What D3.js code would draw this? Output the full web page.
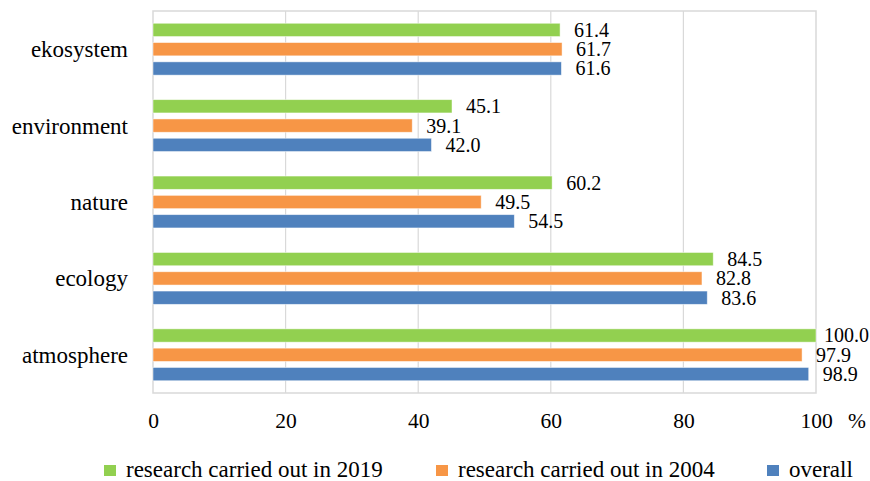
<!DOCTYPE html>
<html><head><meta charset="utf-8"><script src="https://cdn.jsdelivr.net/npm/d3@7"></script></head>
<body style="margin:0">
<script>
const categories = ["ekosystem", "environment", "nature", "ecology", "atmosphere"];
const seriesNames = ["research carried out in 2019", "research carried out in 2004", "overall"];
const values2019 = [61.4, 45.1, 60.2, 84.5, 100.0];
const values2004 = [61.7, 39.1, 49.5, 82.8, 97.9];
const valuesOverall = [61.6, 42.0, 54.5, 83.6, 98.9];
const xTicks = [0, 20, 40, 60, 80, 100];
const colors = ["#92D050", "#F79646", "#4F81BD"];

const FONT = "Liberation Serif";
const W = 870, H = 481;
const plot = { left: 153, right: 816, top: 11, bottom: 393 };

const svg = d3.select("body").append("svg").attr("width", W).attr("height", H);

const x = d3.scaleLinear().domain([0, 100]).range([plot.left, plot.right]);
const y0 = d3.scaleBand().domain(categories).range([plot.top, plot.bottom]).padding(0);
const y1 = d3.scaleBand().domain(seriesNames).range([0, y0.bandwidth()])
  .paddingInner(0.311).paddingOuter(0.635);
const color = d3.scaleOrdinal().domain(seriesNames).range(colors);

const seriesValues = [values2019, values2004, valuesOverall];
const rows = categories.map((c, i) => ({
  cat: c,
  vals: seriesNames.map((s, j) => ({ series: s, value: seriesValues[j][i] }))
}));

function serif(sel, size) {
  sel.style("font-family", `"${FONT}"`).attr("font-size", size).attr("fill", "#000");
}

// gridlines
svg.append("g").selectAll("line").data(xTicks.slice(1, -1)).join("line")
  .attr("x1", d => x(d)).attr("x2", d => x(d))
  .attr("y1", plot.top).attr("y2", plot.bottom)
  .attr("stroke", "#d9d9d9").attr("stroke-width", 1.2);

// plot border
svg.append("rect")
  .attr("x", plot.left).attr("y", plot.top)
  .attr("width", plot.right - plot.left).attr("height", plot.bottom - plot.top)
  .attr("fill", "none").attr("stroke", "#d9d9d9").attr("stroke-width", 1.5);

// bars
const groups = svg.append("g").selectAll("g").data(rows).join("g")
  .attr("transform", d => `translate(0,${y0(d.cat)})`);

groups.selectAll("rect").data(d => d.vals).join("rect")
  .attr("x", x(0))
  .attr("y", d => y1(d.series))
  .attr("width", d => x(d.value) - x(0))
  .attr("height", y1.bandwidth())
  .attr("fill", d => color(d.series))
  .attr("stroke", "#ffffff").attr("stroke-opacity", 0.6).attr("stroke-width", 0.8);

// value labels (approximate width of Times digits: 0.5em, '.' 0.25em)
const fmt = d3.format(".1f");
const valSize = 20;
groups.selectAll("text").data(d => d.vals).join("text")
  .call(serif, valSize)
  .attr("y", d => y1(d.series) + y1.bandwidth() / 2 + 7)
  .attr("x", d => {
    const s = fmt(d.value);
    const w = (s.length - 1) * 0.5 * valSize + 0.25 * valSize;
    return Math.min(x(d.value) + 14, W - w - 1);
  })
  .text(d => fmt(d.value));

// category labels
svg.append("g").selectAll("text").data(categories).join("text")
  .call(serif, 23)
  .attr("x", 128)
  .attr("y", d => y0(d) + y0.bandwidth() / 2 + 8)
  .attr("text-anchor", "end")
  .text(d => d);

// x axis tick labels
const xAxis = d3.axisBottom(x).tickValues(xTicks).tickSize(0).tickPadding(0);
const ax = svg.append("g").attr("transform", `translate(0,${plot.bottom})`).call(xAxis);
ax.attr("font-family", null).attr("font-size", null);
ax.select(".domain").remove();
ax.selectAll("text")
  .call(serif, 21.5)
  .attr("dy", null)
  .attr("y", 35);

svg.append("text").attr("x", 848).attr("y", plot.bottom + 35)
  .call(serif, 21.5)
  .text("%");

// legend
const legendX = [104, 436, 767];
const leg = svg.append("g").selectAll("g").data(seriesNames).join("g")
  .attr("transform", (d, i) => `translate(${legendX[i]},0)`);
leg.append("rect").attr("x", 0).attr("y", 465).attr("width", 12).attr("height", 11)
  .attr("fill", d => color(d));
leg.append("text").attr("x", 22).attr("y", 477)
  .call(serif, 23)
  .text(d => d);
</script>
</body></html>
